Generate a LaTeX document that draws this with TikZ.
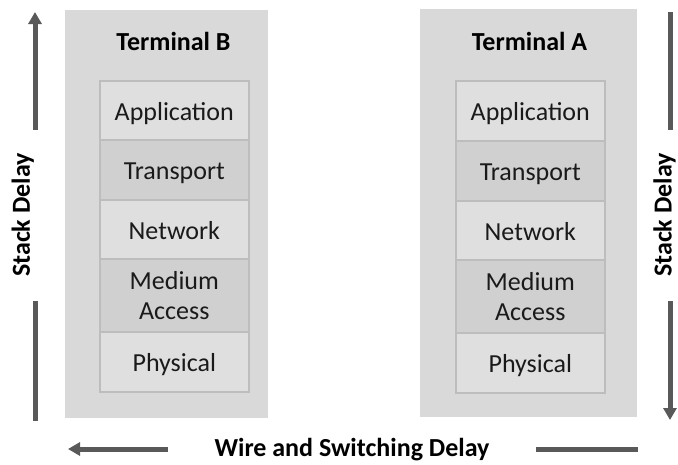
\documentclass[tikz,border=0pt]{standalone}
\usepackage{fontspec}
\setmainfont{Carlito}
\usetikzlibrary{arrows.meta}

\definecolor{termfill}{HTML}{D9D9D9}
\definecolor{celllight}{HTML}{DFDFDF}
\definecolor{celldark}{HTML}{D0D0D0}
\definecolor{cellline}{HTML}{BDBDBD}
\definecolor{arrowgray}{HTML}{595959}
\definecolor{textdark}{HTML}{1A1A1A}

\begin{document}
\begin{tikzpicture}[x=1pt,y=-1pt,
  terminal/.style={fill=termfill, draw=none, inner sep=0pt, anchor=north west},
  cell/.style={draw=cellline, line width=1.6pt, minimum width=149pt, inner sep=0pt,
    anchor=north west, text=textdark, font=\fontsize{26}{30}\selectfont},
  oneline/.style={text height=20pt, text depth=0pt},
  light/.style={cell, fill=celllight},
  dark/.style={cell, fill=celldark},
  title/.style={font=\fontsize{26}{30}\selectfont\bfseries, text=black, anchor=base, inner sep=0pt},
  flow/.style={draw=arrowgray, line width=5pt},
  tip/.style={-{Triangle[width=13pt,length=12pt]}}
]
% canvas
\path[fill=white] (0,0) rectangle (678,464);
\useasboundingbox (0,0) rectangle (678,464);

% terminal frames
\node[terminal, minimum width=203pt, minimum height=408pt] (termB) at (65,10) {};
\node[terminal, minimum width=217pt, minimum height=408pt] (termA) at (420,9) {};

\node[title] (titleB) at (173.5,50) {Terminal B};
\node[title] (titleA) at (529.5,50) {Terminal A};

% protocol stack of terminal B
\node[light, oneline, minimum height=59pt] (appB)  at (99,80)  {Application};
\node[dark,  oneline, minimum height=60pt] (trB)   at (99,139) {Transport};
\node[light, oneline, minimum height=59pt] (netB)  at (99,199) {Network};
\node[dark, align=center, minimum height=73pt] (macB) at (99,258) {Medium\\Access};
\node[light, oneline, minimum height=60pt] (phyB)  at (99,331) {Physical};

% protocol stack of terminal A
\node[light, oneline, minimum height=60pt] (appA)  at (455,80)  {Application};
\node[dark,  oneline, minimum height=60pt] (trA)   at (455,140) {Transport};
\node[light, oneline, minimum height=59pt] (netA)  at (455,200) {Network};
\node[dark, align=center, minimum height=73pt] (macA) at (455,259) {Medium\\Access};
\node[light, oneline, minimum height=60pt] (phyA)  at (455,332) {Physical};

% stack delay, left side (upwards)
\node[title, rotate=90] (sdL) at (30,215) {Stack Delay};
\coordinate (lUpS) at (35,130);
\coordinate (lUpE) at (35,12);
\coordinate (lLoS) at (35,301);
\coordinate (lLoE) at (35,421);
\draw[flow, tip] (lUpS) -- (lUpE);
\draw[flow] (lLoS) -- (lLoE);

% stack delay, right side (downwards)
\node[title, rotate=90] (sdR) at (671.5,215) {Stack Delay};
\coordinate (rUpS) at (670,12);
\coordinate (rUpE) at (670,130);
\coordinate (rLoS) at (670,301);
\coordinate (rLoE) at (670,420);
\draw[flow] (rUpS) -- (rUpE);
\draw[flow, tip] (rLoS) -- (rLoE);

% wire and switching delay (leftwards)
\node[title] (wsd) at (352,456) {Wire and Switching Delay};
\coordinate (bLS) at (168,449);
\coordinate (bLE) at (68,449);
\coordinate (bRS) at (536,449);
\coordinate (bRE) at (638,449);
\draw[flow, tip] (bLS) -- (bLE);
\draw[flow] (bRS) -- (bRE);
\end{tikzpicture}
\end{document}
